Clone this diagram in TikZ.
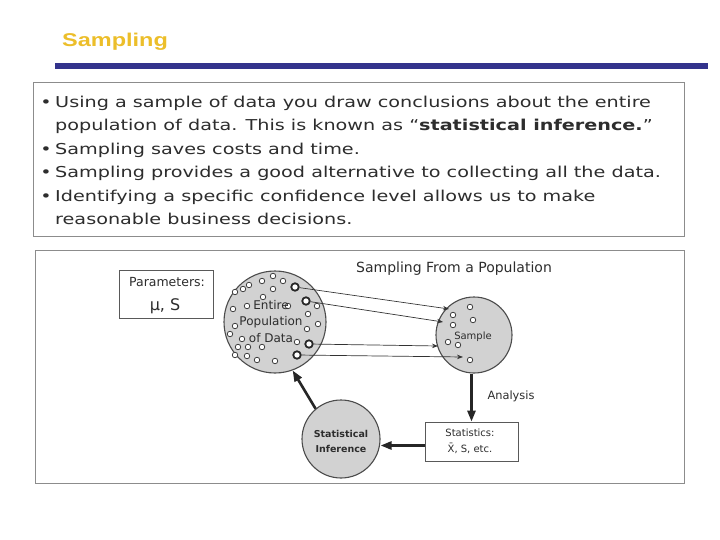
\documentclass[tikz,border=0pt]{standalone}
\usepackage{fontspec}
\setmainfont{DejaVu Sans}
\newfontfamily\slidefont[FakeStretch=1.28]{DejaVu Sans}
\newfontfamily\headfont[FakeStretch=1.27]{Liberation Sans}
\usepackage{xcolor}
\usepackage{tikz}
\usetikzlibrary{arrows.meta,positioning}
\definecolor{titlegold}{RGB}{236,190,42}
\definecolor{barblue}{RGB}{51,51,140}
\definecolor{ink}{RGB}{45,45,45}
\definecolor{ballgray}{RGB}{210,210,210}

\begin{document}
\begin{tikzpicture}[x=1pt, y=-1pt,
  panel/.style={draw=black!45, line width=1pt, fill=white},
  fact/.style={font=\slidefont\fontsize{15}{18}\selectfont, text=ink,
               inner sep=0pt, anchor=base west},
  bul/.style={font=\slidefont\fontsize{15}{18}\selectfont, text=ink,
              inner sep=0pt, anchor=base},
  ball/.style={circle, draw=black!70, line width=1.1pt, fill=ballgray,
               minimum size=#1, inner sep=0pt},
  card/.style={draw=black!65, line width=0.8pt, fill=white, inner sep=0pt},
  lbl/.style={text=ink, inner sep=0pt, align=center},
  dot/.style={circle, draw=black!75, line width=0.8pt, fill=white,
              minimum size=5.5pt, inner sep=0pt},
  bigdot/.style={circle, draw=black!85, line width=1.8pt, fill=white,
                 minimum size=7.5pt, inner sep=0pt},
  pick/.style={-{Stealth[length=6pt,width=4.5pt]}, black!80, line width=0.7pt},
  flow/.style={-{Triangle[length=11pt,width=8pt]}, black!85, line width=2.6pt},
]
\useasboundingbox (0,0) rectangle (720,540);

% Title
\node[font=\headfont\bfseries\fontsize{18.5}{21}\selectfont, text=titlegold,
      inner sep=0pt, anchor=base west] (title) at (62,46.5) {Sampling};
\fill[barblue] (55,63) rectangle (708,69);

% Text panel
\node[panel, minimum width=651pt, minimum height=153pt] (facts) at (358.5,159.5) {};
\node[bul] (b1) at (46,107.5) {•};
\node[bul] (b2) at (46,154.3) {•};
\node[bul] (b3) at (46,177.7) {•};
\node[bul] (b4) at (46,201.1) {•};
\node[fact] (t1) at (55,107.5) {Using a sample of data you draw conclusions about the entire};
\node[fact] (t2) at (55,130.9) {population of data. This is known as “\textbf{statistical inference.}”};
\node[fact] (t3) at (55,154.3) {Sampling saves costs and time.};
\node[fact] (t4) at (55,177.7) {Sampling provides a good alternative to collecting all the data.};
\node[fact] (t5) at (55,201.1) {Identifying a specific confidence level allows us to make};
\node[fact] (t6) at (55,224.5) {reasonable business decisions.};

% Diagram panel
\node[panel, minimum width=649pt, minimum height=233pt] (chart) at (359.5,366.5) {};
\node[lbl, font=\fontsize{14}{16}\selectfont] (heading) at (454,269)
  {Sampling From a Population};

\node[card, minimum width=94pt, minimum height=48pt] (params) at (166,294) {};
\node[lbl, font=\fontsize{12.5}{14}\selectfont] (ptext) at (167,282) {Parameters:};
\node[lbl, font=\fontsize{16}{18}\selectfont] (pvals) at (165,306) {μ,\hspace{5pt}S};

% Population and sample
\node[ball=102pt] (pop) at (275,322) {};
\node[ball=76pt] (sample) at (474,335) {};
\foreach \p [count=\i] in {(273,276),(262,281),(283,281),(249,285),(243,289),
    (235,292),(273,289),(263,297),(247,306),(288,306),(233,309),(317,306),
    (308,314),(235,326),(318,324),(307,329),(230,334),(242,339),(297,342),
    (238,347),(248,347),(262,347),(235,355),(247,356),(257,360),(275,361)}
  \node[dot] (pdot-\i) at \p {};
\foreach \p [count=\i] in {(470,307),(453,315),(473,320),(453,325),
    (448,342),(458,345),(470,360)}
  \node[dot] (sdot-\i) at \p {};
\node[bigdot] (pd1) at (295,287) {};
\node[bigdot] (pd2) at (306,301) {};
\node[bigdot] (pd3) at (309,344) {};
\node[bigdot] (pd4) at (297,355) {};
\node[lbl, font=\fontsize{12}{16.5}\selectfont] (poptext) at (271,321.5)
  {Entire\\Population\\of Data};
\node[lbl, font=\fontsize{10}{12}\selectfont] (stext) at (473,337) {Sample};

\coordinate (tip1) at (449,309);
\coordinate (tip2) at (443,322);
\coordinate (tip3) at (438,346);
\coordinate (tip4) at (463,357);
\draw[pick] (pd1) -- (tip1);
\draw[pick] (pd2) -- (tip2);
\draw[pick] (pd3) -- (tip3);
\draw[pick] (pd4) -- (tip4);

% Analysis loop
\node[card, minimum width=93pt, minimum height=39pt] (stats) at (471.5,441.5) {};
\node[lbl, font=\fontsize{10}{16}\selectfont] (stattext) at (470,441)
  {Statistics:\\X̄, S, etc.};
\node[ball=78pt] (infer) at (341,439) {};
\node[lbl, font=\bfseries\fontsize{9.5}{15}\selectfont] (infertext) at (341,441.5)
  {Statistical\\Inference};
\node[lbl, font=\fontsize{11.4}{13}\selectfont] (analysis) at (511,396) {Analysis};

\draw[flow] (sample.south -| stats.north) -- (stats.north);
\draw[flow] ([yshift=-4pt]stats.west) -- ([yshift=-4pt]stats.west -| infer.east);
\draw[flow] (infer.130) -- (pop.290);
\end{tikzpicture}
\end{document}
